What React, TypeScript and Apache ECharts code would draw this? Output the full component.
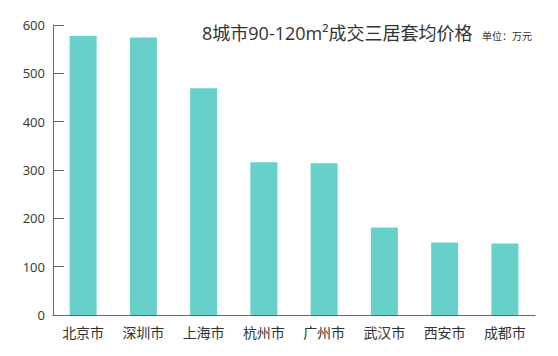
import React, { useEffect, useRef } from "react";
import * as echarts from "echarts";

const cities = ["北京市", "深圳市", "上海市", "杭州市", "广州市", "武汉市", "西安市", "成都市"];
const prices = [577, 574, 469, 316, 314, 181, 150, 148];
const yTicks = { min: 0, max: 600, interval: 100 };
const titleText = "8城市90-120m²成交三居套均价格";
const unitText = "单位：万元";

export default function App() {
  const ref = useRef<HTMLDivElement>(null);
  useEffect(() => {
    document.body.style.margin = "0";
    const chart = echarts.init(ref.current!, null, { renderer: "svg" });
    const font = "'Open Sans', 'Noto Sans CJK SC', sans-serif";
    chart.setOption({
      animation: false,
      backgroundColor: "#ffffff",
      title: [
        {
          text: titleText,
          left: 202,
          top: 24,
          padding: 0,
          textStyle: { fontSize: 18, fontWeight: "normal", color: "#333333", fontFamily: font },
        },
        {
          text: unitText,
          left: 482,
          top: 31,
          padding: 0,
          textStyle: { fontSize: 10, fontWeight: "normal", color: "#333333", fontFamily: font },
        },
      ],
      grid: { left: 53, right: 23, top: 25, bottom: 41, containLabel: false },
      xAxis: {
        type: "category",
        data: cities,
        boundaryGap: true,
        axisLine: { lineStyle: { color: "#666666", width: 1 } },
        axisTick: { inside: true, length: 7, lineStyle: { color: "#666666" } },
        axisLabel: { color: "#333333", fontSize: 14, margin: 10, fontFamily: font },
      },
      yAxis: {
        type: "value",
        min: yTicks.min,
        max: yTicks.max,
        interval: yTicks.interval,
        axisLine: { show: true, lineStyle: { color: "#666666", width: 1 } },
        axisTick: { show: true, inside: true, length: 11, lineStyle: { color: "#666666" } },
        splitLine: { show: false },
        axisLabel: { color: "#333333", fontSize: 13, margin: 8, fontFamily: font },
      },
      series: [
        {
          type: "bar",
          data: prices,
          barWidth: 27,
          itemStyle: { color: "#66d0c9" },
        },
      ],
    });
    return () => chart.dispose();
  }, []);
  return <div ref={ref} style={{ width: 558, height: 356 }} />;
}
